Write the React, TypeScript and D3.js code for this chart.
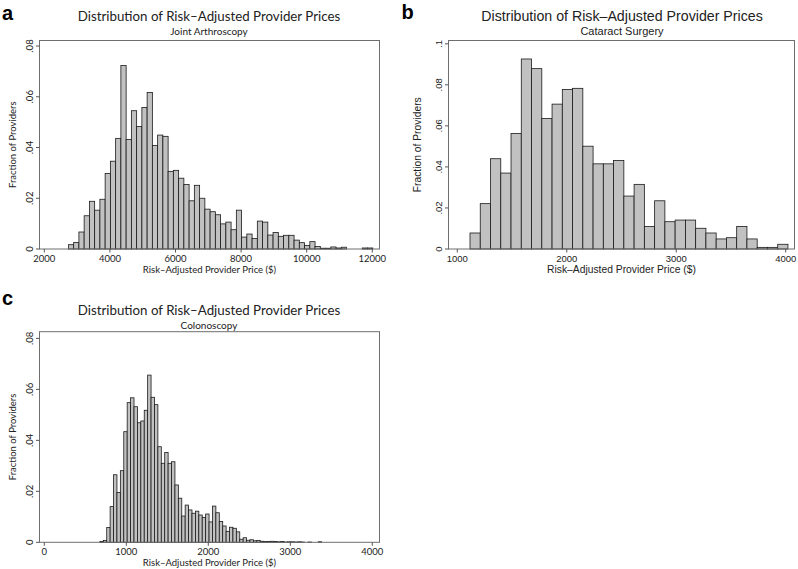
import * as d3 from 'd3'

// shared text
const titleText = 'Distribution of Risk–Adjusted Provider Prices'
const xTitleText = 'Risk–Adjusted Provider Price ($)'
const yTitleText = 'Fraction of Providers'

// a: joint arthroscopy (bins start at jointStart, each jointWidth wide)
const jointStart = 2735
const jointWidth = 160
const jointFrac = [
  0.0017, 0.0026, 0.0067, 0.0131, 0.0188, 0.0153, 0.0196, 0.0298, 0.0346, 0.0436,
  0.0723, 0.0432, 0.0545, 0.0483, 0.0558, 0.0617, 0.0408, 0.0449, 0.0444, 0.0306,
  0.031, 0.0279, 0.0254, 0.019, 0.0251, 0.02, 0.0157, 0.0147, 0.0135, 0.0099,
  0.0106, 0.0076, 0.0153, 0.0047, 0.0059, 0.0041, 0.011, 0.0106, 0.0055, 0.0065,
  0.005, 0.0054, 0.0054, 0.0035, 0.0025, 0.0014, 0.0029, 0.001, 0.0003, 0.0003,
  0.0008, 0.0004, 0.0007, 0, 0, 0, 0.0004, 0.0004
]
const jointXTicks = [2000, 4000, 6000, 8000, 10000, 12000]
const jointYTicks = [0, 0.02, 0.04, 0.06, 0.08]

// b: cataract surgery
const cataractStart = 1116
const cataractWidth = 93.7
const cataractFrac = [
  0.0078, 0.0221, 0.044, 0.037, 0.0563, 0.0926, 0.0879, 0.0636, 0.0706, 0.0777,
  0.0783, 0.0501, 0.0415, 0.0415, 0.0431, 0.0258, 0.0315, 0.011, 0.0235, 0.0133,
  0.0141, 0.0141, 0.0101, 0.0078, 0.0049, 0.0055, 0.011, 0.0049, 0.0008, 0.0008,
  0.0023
]
const cataractXTicks = [1000, 2000, 3000, 4000]
const cataractYTicks = [0, 0.02, 0.04, 0.06, 0.08, 0.1]

// c: colonoscopy
const colonStart = 678
const colonWidth = 41.6
const colonFrac = [
  0.0003, 0.0007, 0.0058, 0.014, 0.0265, 0.0195, 0.0281, 0.0434, 0.0548, 0.0567,
  0.0532, 0.0469, 0.0476, 0.0518, 0.0656, 0.0569, 0.054, 0.0375, 0.031, 0.0352,
  0.031, 0.0316, 0.0225, 0.0173, 0.0103, 0.0146, 0.0127, 0.0114, 0.0122, 0.0107,
  0.0097, 0.0111, 0.008, 0.0142, 0.0116, 0.0082, 0.0064, 0.0043, 0.0059, 0.0055,
  0.0041, 0.0012, 0.0018, 0.0008, 0.001, 0.0006, 0.0007, 0.0004, 0.0003, 0.0003,
  0.0004, 0.0003, 0.0002, 0.0003, 0.0001, 0.0002, 0.0002, 0.0001, 0.0002, 0.0001,
  0, 0.0001, 0, 0, 0.0002
]
const colonXTicks = [0, 1000, 2000, 3000, 4000]
const colonYTicks = [0, 0.02, 0.04, 0.06, 0.08]

const fmtY = (v: number) => (v === 0 ? '0' : String(+v.toFixed(2)).replace(/^0/, ''))

interface PanelProps {
  letter: string
  letterPos: [number, number]
  subtitle: string
  start: number
  width: number
  frac: number[]
  xTicks: number[]
  yTicks: number[]
  frame: { x0: number; x1: number; y0: number; y1: number }
  xRange: [number, number]
  yRange: [number, number]
  font: string
  sizes: { title: number; sub: number; tick: number; axis: number }
  titleX: number
  titleY: number
  yTitleOff: number
}

function Panel(p: PanelProps) {
  const x = d3.scaleLinear().domain([p.xTicks[0], p.xTicks[p.xTicks.length - 1]]).range(p.xRange)
  const y = d3.scaleLinear().domain([0, p.yTicks[p.yTicks.length - 1]]).range(p.yRange)
  const { x0, x1, y0, y1 } = p.frame
  const bins = p.frac.map((f, i) => ({ lo: p.start + i * p.width, hi: p.start + (i + 1) * p.width, f }))
  const midX = (x0 + x1) / 2
  return (
    <g fontFamily={p.font} fill="#222">
      <text x={p.letterPos[0]} y={p.letterPos[1]} fontFamily="'Liberation Sans', Arial, sans-serif" fontWeight="bold" fontSize={20} fill="#000">
        {p.letter}
      </text>
      <text x={p.titleX} y={p.titleY} textAnchor="middle" fontSize={p.sizes.title}>{titleText}</text>
      <text x={p.titleX} y={p.titleY + 14.5} textAnchor="middle" fontSize={p.sizes.sub}>{p.subtitle}</text>

      {bins.filter(b => b.f > 0).map((b, i) => (
        <rect
          key={i}
          x={x(b.lo)}
          y={y(b.f)}
          width={x(b.hi) - x(b.lo)}
          height={y(0) - y(b.f)}
          fill="#c1c1c1"
          stroke="#1a1a1a"
          strokeWidth={0.8}
        />
      ))}

      <rect x={x0} y={y0} width={x1 - x0} height={y1 - y0} fill="none" stroke="#6e6e6e" strokeWidth={1} />

      {p.xTicks.map(t => (
        <g key={t}>
          <line x1={x(t)} x2={x(t)} y1={y1} y2={y1 + 3.5} stroke="#555" />
          <text x={x(t)} y={y1 + 13} textAnchor="middle" fontSize={p.sizes.tick}>{t}</text>
        </g>
      ))}
      {p.yTicks.map(t => (
        <g key={t}>
          <line x1={x0} x2={x0 - 3.5} y1={y(t)} y2={y(t)} stroke="#555" />
          <text transform={`translate(${x0 - 7},${y(t)}) rotate(-90)`} textAnchor="middle" fontSize={p.sizes.tick}>
            {fmtY(t)}
          </text>
        </g>
      ))}
      <text x={midX} y={y1 + 24} textAnchor="middle" fontSize={p.sizes.axis}>{xTitleText}</text>
      <text transform={`translate(${x0 - p.yTitleOff},${(y0 + y1) / 2}) rotate(-90)`} textAnchor="middle" fontSize={p.sizes.axis}>
        {yTitleText}
      </text>
    </g>
  )
}

export default function App() {
  const humanist = "Lato, 'Noto Sans', sans-serif"
  const helv = "'Liberation Sans', Arial, sans-serif"
  return (
    <div style={{ position: 'absolute', left: 0, top: 0 }}>
      <svg width={798} height={569} style={{ display: 'block', background: '#fff' }}>
        <Panel
          letter="a"
          letterPos={[2, 20]}
          subtitle="Joint Arthroscopy"
          start={jointStart}
          width={jointWidth}
          frac={jointFrac}
          xTicks={jointXTicks}
          yTicks={jointYTicks}
          frame={{ x0: 39.5, x1: 379.5, y0: 40.5, y1: 249 }}
          xRange={[44.3, 372.3]}
          yRange={[249, 46]}
          font={humanist}
          sizes={{ title: 13.3, sub: 10, tick: 9.5, axis: 9.5 }}
          titleX={209}
          titleY={20.5}
          yTitleOff={24}
        />
        <Panel
          letter="b"
          letterPos={[401.5, 18.5]}
          subtitle="Cataract Surgery"
          start={cataractStart}
          width={cataractWidth}
          frac={cataractFrac}
          xTicks={cataractXTicks}
          yTicks={cataractYTicks}
          frame={{ x0: 448.5, x1: 794.5, y0: 40.5, y1: 249 }}
          xRange={[457.3, 785.7]}
          yRange={[249, 43.8]}
          font={helv}
          sizes={{ title: 14.2, sub: 11, tick: 9.5, axis: 10.3 }}
          titleX={622}
          titleY={20.5}
          yTitleOff={28}
        />
        <Panel
          letter="c"
          letterPos={[2, 305]}
          subtitle="Colonoscopy"
          start={colonStart}
          width={colonWidth}
          frac={colonFrac}
          xTicks={colonXTicks}
          yTicks={colonYTicks}
          frame={{ x0: 39.5, x1: 379.5, y0: 331.7, y1: 542.3 }}
          xRange={[44.3, 372.3]}
          yRange={[542.3, 338.4]}
          font={humanist}
          sizes={{ title: 13.3, sub: 10, tick: 9.5, axis: 9.5 }}
          titleX={209}
          titleY={314.5}
          yTitleOff={24}
        />
      </svg>
    </div>
  )
}
